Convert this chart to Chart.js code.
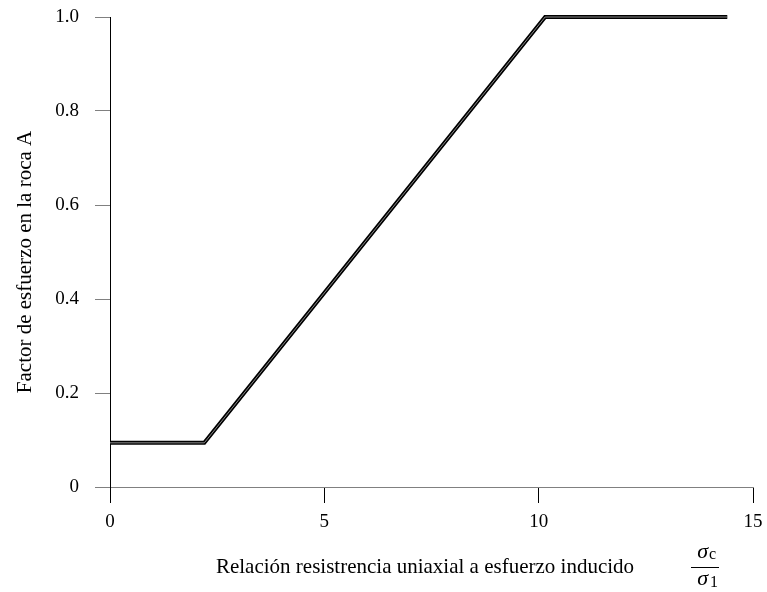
<!DOCTYPE html>
<html>
<head>
<meta charset="utf-8">
<script src="https://cdn.jsdelivr.net/npm/chart.js@4/dist/chart.umd.min.js"></script>
<style>
  html, body { margin: 0; padding: 0; background: #fff; }
  #wrap { width: 767px; height: 592px; position: relative; }
</style>
</head>
<body>
<div id="wrap"><canvas id="c"></canvas></div>
<script>
// Stress factor A against the ratio of uniaxial strength to induced stress
const ratioX = [0, 2.2, 10.15, 14.4];
const factorA = [0.094, 0.094, 1.0, 1.0];
const xTicks = [0, 5, 10, 15];
const yTicks = [0, 0.2, 0.4, 0.6, 0.8, 1.0];
const yTickLabels = ['0', '0.2', '0.4', '0.6', '0.8', '1.0'];
const xTitle = 'Relación resistrencia uniaxial a esfuerzo inducido';
const yTitle = 'Factor de esfuerzo en la roca A';

const SERIF = '"Liberation Serif", "Times New Roman", serif';
const points = ratioX.map((x, i) => ({ x: x, y: factorA[i] }));

// Axis titles and the σc/σ1 fraction
const titlesPlugin = {
  id: 'titles',
  afterDraw(chart) {
    const ctx = chart.ctx;
    ctx.save();
    ctx.fillStyle = '#000';
    ctx.font = '21px ' + SERIF;
    ctx.textAlign = 'center';
    ctx.textBaseline = 'middle';

    ctx.fillText(xTitle, 425, 567);

    ctx.save();
    ctx.translate(25, 262);
    ctx.rotate(-Math.PI / 2);
    ctx.fillText(yTitle, 0, 0);
    ctx.restore();

    // fraction
    const fx = 706;
    ctx.font = 'italic 22px ' + SERIF;
    ctx.textAlign = 'right';
    ctx.fillText('σ', fx + 2, 552);
    ctx.fillText('σ', fx + 2, 579);
    ctx.font = '16px ' + SERIF;
    ctx.textAlign = 'left';
    ctx.fillText('c', fx + 3, 555);
    ctx.fillText('1', fx + 4, 583);
    ctx.strokeStyle = '#000';
    ctx.lineWidth = 1;
    ctx.beginPath();
    ctx.moveTo(691, 567.5);
    ctx.lineTo(719, 567.5);
    ctx.stroke();
    ctx.restore();
  }
};

new Chart(document.getElementById('c'), {
  type: 'scatter',
  data: {
    datasets: [
      {
        data: points,
        showLine: true,
        borderColor: '#8a8a8a',
        borderWidth: 1,
        pointRadius: 0,
        tension: 0,
        clip: false
      },
      {
        data: points,
        showLine: true,
        borderColor: '#000',
        borderWidth: 4,
        borderJoinStyle: 'miter',
        pointRadius: 0,
        tension: 0,
        clip: false
      }
    ]
  },
  options: {
    responsive: true,
    maintainAspectRatio: false,
    devicePixelRatio: 1,
    animation: false,
    layout: { padding: { top: 17, right: 14, left: 0, bottom: 0 } },
    plugins: {
      legend: { display: false },
      tooltip: { enabled: false }
    },
    scales: {
      x: {
        type: 'linear',
        min: 0,
        max: 15,
        afterBuildTicks(s) { s.ticks = xTicks.map(v => ({ value: v })); },
        afterFit(s) { s.height = 105; s.paddingLeft = 0; s.paddingRight = 0; },
        ticks: {
          color: '#000',
          font: { family: SERIF, size: 19 },
          padding: 8,
          maxRotation: 0
        },
        grid: {
          drawOnChartArea: false,
          drawTicks: true,
          tickLength: 16,
          color: '#000',
          lineWidth: 1
        },
        border: { display: true, color: '#808080', width: 1 }
      },
      y: {
        type: 'linear',
        min: 0,
        max: 1,
        afterBuildTicks(s) { s.ticks = yTicks.map(v => ({ value: v })); },
        afterFit(s) { s.width = 110; s.paddingTop = 0; s.paddingBottom = 0; },
        ticks: {
          color: '#000',
          font: { family: SERIF, size: 19 },
          padding: 16,
          callback(v) {
            const i = yTicks.findIndex(t => Math.abs(t - v) < 1e-9);
            return i >= 0 ? yTickLabels[i] : '';
          }
        },
        grid: {
          drawOnChartArea: false,
          drawTicks: true,
          tickLength: 15,
          color: '#808080',
          lineWidth: 1
        },
        border: { display: true, color: '#000', width: 1 }
      }
    }
  },
  plugins: [titlesPlugin]
});
</script>
</body>
</html>
